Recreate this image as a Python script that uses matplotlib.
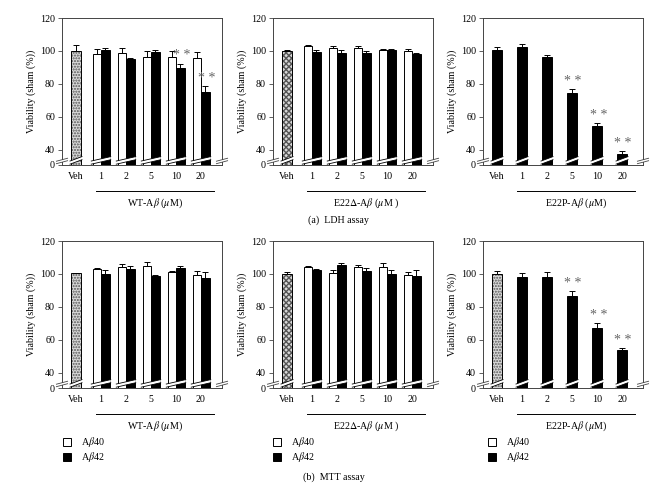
import matplotlib
matplotlib.use("Agg")
import matplotlib.pyplot as plt
from matplotlib.transforms import blended_transform_factory
from matplotlib.patches import Rectangle, Polygon

plt.rcParams['font.family'] = ['Liberation Serif', 'DejaVu Serif']
plt.rcParams['mathtext.fontset'] = 'stix'

doses = ["1", "2", "5", "10", "20"]
y_ticks = [40, 60, 80, 100, 120]

# LDH assay
ldh_wt_veh = (100, 3.9)
ldh_wt_40 = [98.4, 99.0, 96.5, 96.1, 95.5]
ldh_wt_40_err = [3.0, 2.9, 3.5, 3.9, 4.0]
ldh_wt_42 = [100.6, 95.3, 99.6, 89.4, 75.3]
ldh_wt_42_err = [1.2, 0.4, 1.0, 2.9, 3.5]

ldh_d_veh = (100, 0.6)
ldh_d_40 = [102.9, 102.0, 101.8, 100.6, 100.2]
ldh_d_40_err = [1.0, 1.0, 1.4, 0.6, 1.2]
ldh_d_42 = [99.6, 98.6, 99.0, 100.6, 98.2]
ldh_d_42_err = [1.2, 2.0, 0.8, 0.8, 0.6]

ldh_p_veh = (100.8, 1.4)
ldh_p_42 = [102.6, 96.4, 74.7, 54.7, 37.4]
ldh_p_42_err = [1.4, 1.4, 2.2, 1.4, 1.8]

# MTT assay
mtt_wt_veh = (100.4, 0.4)
mtt_wt_40 = [103.0, 104.0, 104.6, 101.4, 99.6]
mtt_wt_40_err = [0.4, 2.2, 2.8, 0.6, 2.4]
mtt_wt_42 = [100.2, 103.0, 98.8, 103.6, 97.8]
mtt_wt_42_err = [2.0, 1.8, 0.8, 1.0, 3.6]

mtt_d_veh = (100.2, 1.2)
mtt_d_40 = [104.0, 100.4, 104.0, 104.4, 99.2]
mtt_d_40_err = [1.0, 2.0, 1.6, 2.4, 1.8]
mtt_d_42 = [102.2, 105.7, 101.6, 100.0, 98.8]
mtt_d_42_err = [1.0, 1.0, 2.0, 2.6, 3.6]

mtt_p_veh = (100.0, 1.8)
mtt_p_42 = [98.4, 98.4, 86.5, 67.1, 53.9]
mtt_p_42_err = [2.2, 2.6, 3.0, 3.0, 1.0]

W, H = 666, 488
ZERO = 30.8   # where "0" sits on the broken axis
AX_COL = "#444444"
FS = 7.2


def make_axes(fig, left, top, width=160, height=147):
    return fig.add_axes([left / W, (H - top - height) / H, width / W, height / H])


def break_stripe(ax, x0, x1):
    # white slanted band across the bars, marks the axis break
    x0, x1 = x0 - 0.05, x1 + 0.05
    y0, gap, dy = 31.3, 1.9, 2.7
    ax.add_patch(Polygon([(x0, y0), (x1, y0 + dy), (x1, y0 + dy + gap), (x0, y0 + gap)],
                         closed=True, facecolor="white", edgecolor="none", zorder=4))
    ax.plot([x0, x1], [y0, y0 + dy], color="black", lw=0.6, zorder=5)
    ax.plot([x0, x1], [y0 + gap, y0 + dy + gap], color="black", lw=0.6, zorder=5)


def spine_break(ax, xa):
    tr = blended_transform_factory(ax.transAxes, ax.transData)
    ax.add_patch(Rectangle((xa - 0.015, 32.6), 0.03, 1.4, transform=tr, facecolor="white",
                           edgecolor="none", clip_on=False, zorder=6))
    for yb in (32.2, 33.7):
        ax.plot([xa - 0.035, xa + 0.035], [yb - 0.6, yb + 1.2], transform=tr, color=AX_COL,
                lw=0.6, clip_on=False, zorder=7)


def draw_panel(ax, veh, veh_hatch, a40, e40, a42, e42, stars, group_label, veh_black=False):
    bw = 0.34
    ebar = dict(ecolor="black", elinewidth=0.7, capsize=2.2, capthick=0.7)
    v, ve = veh
    if veh_black:
        ax.bar(0, v - ZERO, bottom=ZERO, width=0.38, color="black", edgecolor="black", lw=0.7, zorder=3)
    else:
        ax.bar(0, v - ZERO, bottom=ZERO, width=0.38, color="#d9d9d9", edgecolor="#555555",
               hatch=veh_hatch, lw=0, zorder=2)
        ax.bar(0, v - ZERO, bottom=ZERO, width=0.38, fill=False, edgecolor="black", lw=0.7, zorder=3)
    ax.errorbar(0, v, yerr=[[0], [ve]], fmt="none", zorder=3, **ebar)
    break_stripe(ax, -0.19, 0.19)

    xs = list(range(1, len(doses) + 1))
    if a40 is not None:
        x40 = [x - bw / 2 for x in xs]
        x42 = [x + bw / 2 for x in xs]
        ax.bar(x40, [a - ZERO for a in a40], bottom=ZERO, width=bw, color="white",
               edgecolor="black", lw=0.7, zorder=3)
        ax.errorbar(x40, a40, yerr=[[0] * len(a40), e40], fmt="none", zorder=3, **ebar)
        w42 = bw
    else:
        x42 = xs
        w42 = 0.38
    ax.bar(x42, [a - ZERO for a in a42], bottom=ZERO, width=w42, color="black",
           edgecolor="black", lw=0.7, zorder=3)
    ax.errorbar(x42, a42, yerr=[[0] * len(a42), e42], fmt="none", zorder=3, **ebar)
    for x in xs:
        half = bw if a40 is not None else 0.19
        break_stripe(ax, x - half, x + half)
    for i in stars:
        ax.text(x42[i] + 0.05, a42[i] + e42[i] + 0.8, "* *", ha="center", va="bottom",
                fontsize=10, color="#666666", zorder=6)

    ax.set_xlim(-0.56, 5.84)
    ax.set_ylim(ZERO, 120)
    ax.set_yticks([ZERO] + y_ticks)
    ax.set_yticklabels(["0"] + [str(t) for t in y_ticks], fontsize=FS)
    ax.set_xticks(range(0, len(doses) + 1))
    ax.set_xticklabels(["Veh"] + doses, fontsize=FS)
    ax.tick_params(axis="x", length=0, pad=5)
    ax.tick_params(axis="y", length=3, width=0.6, color=AX_COL, pad=2)
    for s in ax.spines.values():
        s.set_color(AX_COL)
        s.set_linewidth(0.7)
    ax.set_ylabel("Viability (sham (%))", fontsize=FS, labelpad=3)
    spine_break(ax, 0.0)
    spine_break(ax, 1.0)

    tr = blended_transform_factory(ax.transData, ax.transAxes)
    ax.plot([0.78, 5.52], [-0.175, -0.175], transform=tr, color="black", lw=0.7, clip_on=False)
    ax.text(3.15, -0.215, group_label, transform=tr, ha="center", va="top", fontsize=FS)


def legend(fig, left, top):
    for i, (fc, lab) in enumerate([("white", r"A$\beta$40"), ("black", r"A$\beta$42")]):
        y = top + i * 15
        fig.patches.append(Rectangle((left / W, (H - y - 8) / H), 8 / W, 8 / H, transform=fig.transFigure,
                                     facecolor=fc, edgecolor="black", lw=0.7))
        fig.text((left + 18) / W, (H - y - 4) / H, lab, fontsize=FS, va="center")


fig = plt.figure(figsize=(W / 100, H / 100), dpi=100)

wt_lab = r"WT-A$\beta$ ($\mu$M)"
d_lab = r"E22$\Delta$-A$\beta$ ($\mu$M )"
p_lab = r"E22P-A$\beta$ ($\mu$M)"

ax = make_axes(fig, 62, 18)
draw_panel(ax, ldh_wt_veh, "......", ldh_wt_40, ldh_wt_40_err, ldh_wt_42, ldh_wt_42_err, [3, 4], wt_lab)
ax = make_axes(fig, 273, 18)
draw_panel(ax, ldh_d_veh, "xxxxxx", ldh_d_40, ldh_d_40_err, ldh_d_42, ldh_d_42_err, [], d_lab)
ax = make_axes(fig, 483, 18)
draw_panel(ax, ldh_p_veh, "", None, None, ldh_p_42, ldh_p_42_err, [2, 3, 4], p_lab, veh_black=True)

ax = make_axes(fig, 62, 241)
draw_panel(ax, mtt_wt_veh, "......", mtt_wt_40, mtt_wt_40_err, mtt_wt_42, mtt_wt_42_err, [], wt_lab)
ax = make_axes(fig, 273, 241)
draw_panel(ax, mtt_d_veh, "xxxxxx", mtt_d_40, mtt_d_40_err, mtt_d_42, mtt_d_42_err, [], d_lab)
ax = make_axes(fig, 483, 241)
draw_panel(ax, mtt_p_veh, "......", None, None, mtt_p_42, mtt_p_42_err, [2, 3, 4], p_lab)

for lx in (63, 273, 488):
    legend(fig, lx, 438)

fig.text(338 / W, (H - 220) / H, "(a)  LDH assay", ha="center", va="center", fontsize=FS)
fig.text(334 / W, (H - 477) / H, "(b)  MTT assay", ha="center", va="center", fontsize=FS)

fig.savefig("out.png", dpi=100)
